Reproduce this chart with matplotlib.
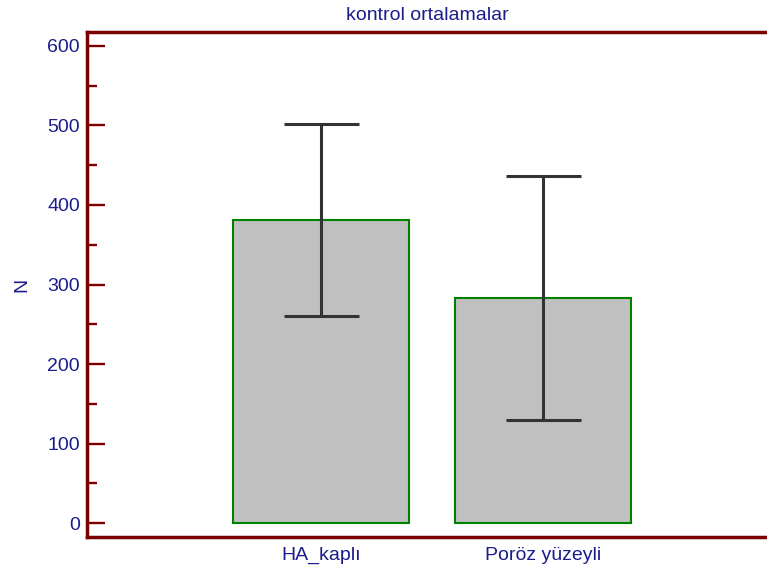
import numpy as np
import matplotlib.pyplot as plt
from matplotlib.ticker import MultipleLocator

plt.rcParams['font.family'] = ['Liberation Sans', 'DejaVu Sans']

groups = ["HA_kaplı", "Poröz yüzeyli"]
means = [381, 283]
sds = [121, 153]

navy = "#1c1c8a"
maroon = "#7a0000"
fs = 14

fig = plt.figure(figsize=(7.67, 5.71), dpi=100)
ax = fig.add_axes([87/767, 1 - 537/571, 1 - 87/767, (537 - 32)/571])

x = np.arange(len(groups))
ax.bar(x, means, width=0.793, color="#c0c0c0", edgecolor="#008000", linewidth=1.5, zorder=2)
ax.errorbar(x, means, yerr=sds, fmt="none", ecolor="#333333", elinewidth=2.2,
            capsize=27, capthick=2.2, zorder=3)

ax.set_xlim(-1.054, 2.009)
ax.set_ylim(-17.6, 617.6)
ax.yaxis.set_major_locator(MultipleLocator(100))
ax.yaxis.set_minor_locator(MultipleLocator(50))
ax.set_xticks(x)
ax.set_xticklabels(groups)

ax.spines["right"].set_visible(False)
for s in ["left", "top", "bottom"]:
    ax.spines[s].set_color(maroon)
    ax.spines[s].set_linewidth(2.5)

ax.tick_params(axis="y", which="major", direction="in", length=13, width=1.7, color=maroon,
               labelcolor=navy, labelsize=fs, pad=5)
ax.tick_params(axis="y", which="minor", direction="in", length=7, width=1.7, color=maroon)
ax.tick_params(axis="x", length=0, labelcolor=navy, labelsize=fs, pad=7)

ax.set_ylabel("N", color=navy, fontsize=fs, labelpad=12)
ax.set_title("kontrol ortalamalar", color=navy, fontsize=fs, pad=9)

fig.savefig("out.png", dpi=100)
